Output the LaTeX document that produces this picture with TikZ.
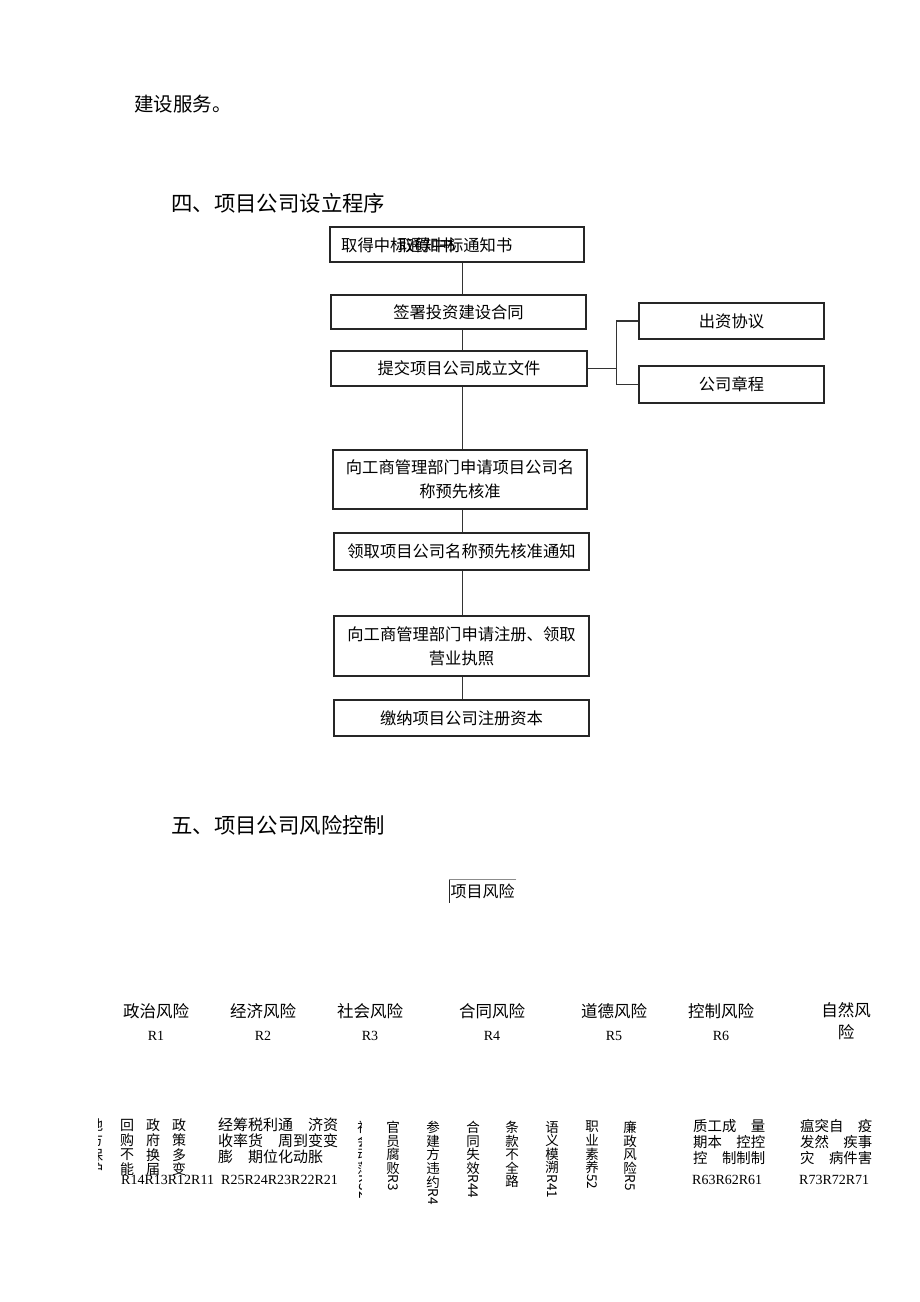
\documentclass[tikz,border=0pt]{standalone}
\usepackage{fontspec}
\setmainfont{Liberation Serif}
\newfontfamily\cjk{Noto Sans CJK SC}
\usetikzlibrary{positioning}

\tikzset{
  head/.style={inner sep=0pt, font=\cjk\fontsize{21.4}{24}\selectfont},
  box/.style={draw=black!85, line width=1.2pt, minimum width=255pt, inner sep=0pt,
    align=center, font=\cjk\fontsize{16.3}{24}\selectfont},
  boxtext/.style={inner sep=0pt, font=\cjk\fontsize{16.3}{24}\selectfont},
  side/.style={box, minimum width=185pt},
  link/.style={draw=black!80, line width=0.8pt},
  cat/.style={inner sep=0pt, align=center, font=\cjk\fontsize{16.5}{22}\selectfont},
  code/.style={inner sep=0pt, font=\fontsize{14}{16}\selectfont},
  vcol/.style={inner sep=0pt, align=center, font=\cjk\fontsize{14}{14.6}\selectfont},
  vcoltwo/.style={inner sep=0pt, align=center, font=\cjk\fontsize{13.5}{13.6}\selectfont},
  vlab/.style={inner sep=0pt, font=\cjk\fontsize{13.5}{13.6}\selectfont},
  rows/.style={inner sep=0pt, align=left, font=\cjk\fontsize{15}{16}\selectfont}
}

\begin{document}
\begin{tikzpicture}[x=1pt, y=-1pt]
  \useasboundingbox[fill=white] (0,0) rectangle (920,1302);

  % headings
  \node[head, anchor=west, font=\cjk\fontsize{19.5}{22}\selectfont] (intro) at (134,104) {建设服务。};
  \node[head, anchor=west] (sec4) at (171,203) {四、项目公司设立程序};

  % flow of steps
  \node[box, minimum height=35pt, minimum width=254pt] (b1) at (457,244.5) {};
  \node[boxtext, anchor=west] (b1a) at (341,245) {取得中标通知书};
  \node[boxtext, anchor=west] (b1b) at (398,245) {取得中标通知书};
  \node[box, minimum height=34pt] (b2) at (458.5,312) {签署投资建设合同};
  \node[box, minimum height=35pt, minimum width=256pt] (b3) at (459,368.5) {提交项目公司成立文件};
  \node[box, minimum height=59pt, minimum width=254pt] (b4) at (460,479.5) {向工商管理部门申请项目公司名\\称预先核准};
  \node[box, minimum height=37pt] (b5) at (461.5,551.5) {领取项目公司名称预先核准通知};
  \node[box, minimum height=60pt] (b6) at (461.5,646) {向工商管理部门申请注册、领取\\营业执照};
  \node[box, minimum height=36pt] (b7) at (461.5,718) {缴纳项目公司注册资本};

  \node[side, minimum height=36pt] (r1) at (731.5,321) {出资协议};
  \node[side, minimum height=37pt] (r2) at (731.5,384.5) {公司章程};

  \coordinate (spine) at (462,0);
  \foreach \a/\b in {b1/b2, b2/b3, b3/b4, b4/b5, b5/b6, b6/b7}
    \draw[link] (\a.south -| spine) -- (\b.north -| spine);

  % documents branch
  \coordinate (fork) at (616,0);
  \draw[link] (b3.east) -- (b3.east -| fork);
  \draw[link] (r1.west -| fork) -- (r2.west -| fork);
  \draw[link, line width=1.5pt] (r1.west -| fork) -- (r1.west);
  \draw[link] (r2.west -| fork) -- (r2.west);

  % risks
  \node[head, anchor=west] (sec5) at (171,825) {五、项目公司风险控制};
  \node[inner xsep=1.5pt, inner ysep=0pt, minimum height=23pt, anchor=west,
    font=\cjk\fontsize{16}{18}\selectfont] (risk) at (449,891.5) {项目风险};
  \draw[black!45, line width=0.8pt] (risk.north east) -- (risk.north west);
  \draw[black!85, line width=0.8pt] (risk.north west) -- (risk.south west);

  \foreach \x/\name/\tag [count=\i] in {156/政治风险/R1, 263/经济风险/R2, 370/社会风险/R3,
      492/合同风险/R4, 614/道德风险/R5, 721/控制风险/R6} {
    \node[cat] (cat\i) at (\x,1011) {\name};
    \node[code] (tag\i) at (\x,1036) {\tag};
  }
  \node[cat, anchor=north] (cat7) at (846,1002) {自然风\\险};

  % political
  \begin{scope}
    \clip (98,1110) rectangle (104,1200);
    \node[vcol, anchor=north] (pol0) at (96,1119) {地\\方\\保\\护};
  \end{scope}
  \foreach \x/\txt [count=\i] in {127/{回\\购\\不\\能}, 153/{政\\府\\换\\届}, 179/{政\\策\\多\\变}}
    \node[vcol, anchor=north] (pol\i) at (\x,1119) {\txt};
  \node[code, anchor=west] (poltag) at (121,1180) {R14R13R12R11};
  \node[code, anchor=west] (ecotag) at (221,1180) {R25R24R23R22R21};

  % economic
  \node[rows, anchor=north west] (eco) at (218,1118) {经筹税利通　济资\\收率货　周到变变\\膨　期位化动胀};

  % social, contract, ethics
  \begin{scope}
    \clip (356,1110) rectangle (361,1215);
    \node[vcoltwo, anchor=north] (soc0) at (364,1121) {社\\会\\动\\荡};
    \node[vlab, rotate=-90, anchor=west] (soclab0) at (soc0.south) {R32};
  \end{scope}
  \foreach \x/\txt/\lab [count=\i] in {393/{官\\员\\腐\\败}/R3, 433/{参\\建\\方\\违\\约}/R4,
      473/{合\\同\\失\\效}/R44, 512/{条\\款\\不\\全\\路}/{}, 552/{语\\义\\模\\溯}/R41,
      592/{职\\业\\素\\养}/52, 630/{廉\\政\\风\\险}/R5} {
    \node[vcoltwo, anchor=north] (col\i) at (\x,1121) {\txt};
    \node[vlab, rotate=-90, anchor=west] (lab\i) at (col\i.south) {\lab};
  }

  % control and nature
  \node[rows, anchor=north west, font=\cjk\fontsize{14.4}{16}\selectfont] (ctl) at (693,1119) {质工成　量\\期本　控控\\控　制制制};
  \node[code, anchor=west] (ctltag) at (692,1180) {R63R62R61};
  \node[rows, anchor=north west, font=\cjk\fontsize{14.4}{16}\selectfont] (nat) at (800,1119) {瘟突自　疫\\发然　疾事\\灾　病件害};
  \node[code, anchor=west] (nattag) at (799,1180) {R73R72R71};
\end{tikzpicture}
\end{document}
